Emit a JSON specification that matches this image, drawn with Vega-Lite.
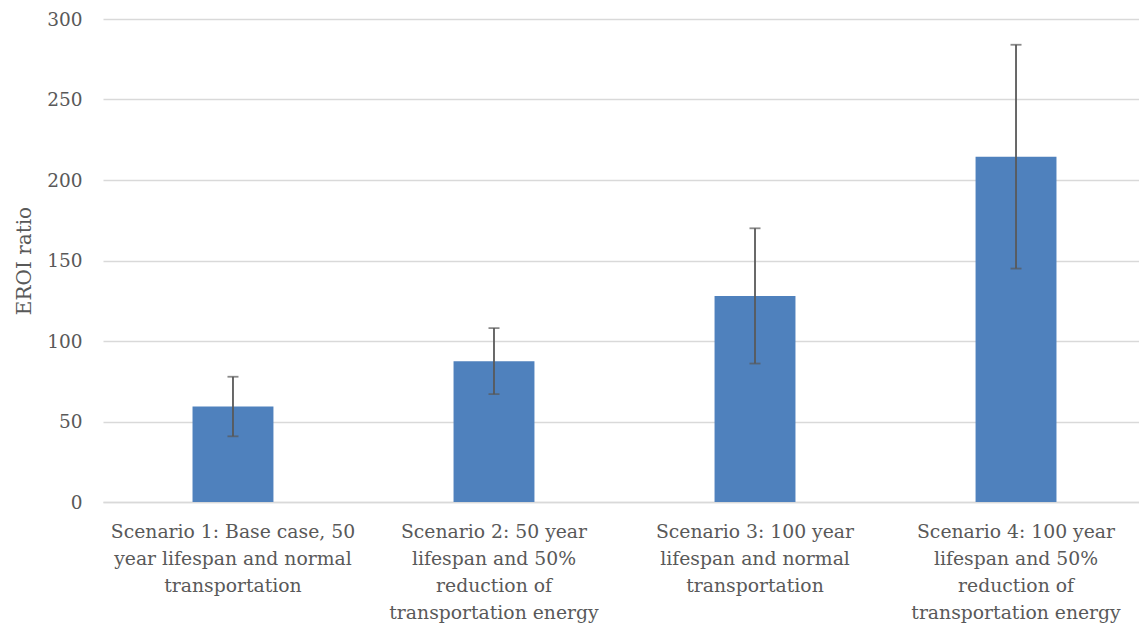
{
  "$schema": "https://vega.github.io/schema/vega-lite/v6.json",
  "autosize": "none",
  "width": 1043,
  "height": 483,
  "padding": {"left": 103, "top": 19, "right": 0, "bottom": 125},
  "background": "white",
  "config": {"view": {"stroke": null}},
  "data": {"values": [
    {"scenario": "Scenario 1: Base case, 50|year lifespan and normal|transportation", "eroi": 59.3, "low": 40.8, "high": 77.8},
    {"scenario": "Scenario 2: 50 year|lifespan and 50%|reduction of|transportation energy", "eroi": 87.5, "low": 67.0, "high": 108.0},
    {"scenario": "Scenario 3: 100 year|lifespan and normal|transportation", "eroi": 128.0, "low": 86.0, "high": 170.0},
    {"scenario": "Scenario 4: 100 year|lifespan and 50%|reduction of|transportation energy", "eroi": 214.5, "low": 145.0, "high": 284.0}
  ]},
  "encoding": {
    "x": {
      "field": "scenario", "type": "nominal", "sort": null,
      "scale": {"paddingInner": 0.69, "paddingOuter": 0.343},
      "axis": {
        "title": null, "labelAngle": 0, "labelExpr": "split(datum.label, '|')",
        "labelFont": "DejaVu Serif", "labelFontSize": 18.8, "labelColor": "#595959",
        "labelLineHeight": 27.3, "labelPadding": 20, "labelBaseline": "top", "labelLimit": 400,
        "ticks": false, "domainColor": "#d9d9d9", "domainWidth": 1.5, "grid": false
      }
    }
  },
  "layer": [
    {
      "mark": {"type": "bar", "color": "#4f81bd"},
      "encoding": {
        "y": {
          "field": "eroi", "type": "quantitative",
          "scale": {"domain": [0, 300], "nice": false},
          "axis": {
            "title": "EROI ratio", "titleFont": "DejaVu Serif", "titleFontSize": 20,
            "titleFontWeight": "normal", "titleColor": "#595959", "titlePadding": 12,
            "labelFont": "DejaVu Serif", "labelFontSize": 18.5, "labelColor": "#595959",
            "labelPadding": 21, "ticks": false, "domain": false,
            "values": [0, 50, 100, 150, 200, 250, 300],
            "gridColor": "#d9d9d9", "gridWidth": 1.5
          }
        }
      }
    },
    {
      "mark": {"type": "rule", "color": "#595959", "strokeWidth": 1.8},
      "encoding": {
        "y": {"field": "low", "type": "quantitative"},
        "y2": {"field": "high"}
      }
    },
    {
      "mark": {"type": "tick", "color": "#595959", "thickness": 1.8, "size": 11},
      "encoding": {"y": {"field": "low", "type": "quantitative"}}
    },
    {
      "mark": {"type": "tick", "color": "#595959", "thickness": 1.8, "size": 11},
      "encoding": {"y": {"field": "high", "type": "quantitative"}}
    }
  ]
}
